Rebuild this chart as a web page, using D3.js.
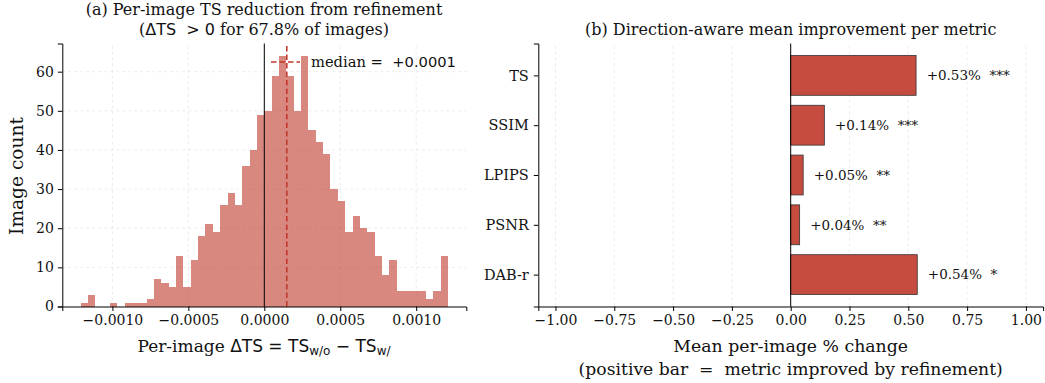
<!DOCTYPE html>
<html>
<head>
<meta charset="utf-8">
<script src="https://cdn.jsdelivr.net/npm/d3@7"></script>
<style>
  html, body { margin: 0; padding: 0; background: #fff; }
  svg { display: block; }
  text { font-family: "DejaVu Serif", serif; fill: #111; }
  .math { font-family: "DejaVu Sans", sans-serif; }
</style>
</head>
<body>
<svg id="chart" width="1045" height="383"></svg>
<script>
// ---- Panel (a): histogram of per-image TS reduction ----
const histLo = -0.00121;
const histHi = 0.00121;
const histCounts = [
  1, 3, 0, 0, 1, 0, 1, 1, 1, 2,
  7, 6, 5, 13, 5, 12, 18, 21, 19, 26,
  29, 26, 36, 40, 49, 50, 59, 64, 59, 50,
  64, 45, 42, 39, 30, 27, 19, 23, 20, 19,
  13, 8, 12, 4, 4, 4, 4, 2, 4, 13
];
const medianDelta = 0.000148;
const positiveShare = 67.8;
const histXTicks = [-0.0010, -0.0005, 0.0000, 0.0005, 0.0010];
const histYTicks = [0, 10, 20, 30, 40, 50, 60];

// ---- Panel (b): direction-aware mean improvement per metric ----
const metrics = ["DAB-r", "PSNR", "LPIPS", "SSIM", "TS"];
const meanChange = [0.538, 0.038, 0.053, 0.143, 0.533];
const significance = ["*", "**", "**", "***", "***"];
const changeTicks = [-1.00, -0.75, -0.50, -0.25, 0.00, 0.25, 0.50, 0.75, 1.00];

const RED = "#c0392b";
const GRID = "#e4e4e4";
const svg = d3.select("#chart");
const minus = s => s.replace("-", "\u2212");

// ================= Panel (a) =================
const nBins = histCounts.length;
const binW = (histHi - histLo) / nBins;
const bins = histCounts.map((c, i) => ({ x0: histLo + i * binW, x1: histLo + (i + 1) * binW, n: c }));

const xA = d3.scaleLinear().domain([-0.00133, 0.00133]).range([62.3, 466.3]);
const yA = d3.scaleLinear().domain([0, 67.2]).range([306.5, 43.5]);
const gA = svg.append("g");

// grid
gA.append("g").selectAll("line").data(histXTicks).join("line")
  .attr("x1", d => xA(d)).attr("x2", d => xA(d))
  .attr("y1", yA.range()[0]).attr("y2", yA.range()[1])
  .attr("stroke", GRID).attr("stroke-width", 0.7).attr("stroke-dasharray", "3,3");
gA.append("g").selectAll("line").data(histYTicks.filter(d => d > 0)).join("line")
  .attr("x1", xA.range()[0]).attr("x2", xA.range()[1])
  .attr("y1", d => yA(d)).attr("y2", d => yA(d))
  .attr("stroke", GRID).attr("stroke-width", 0.7).attr("stroke-dasharray", "3,3");

// bars
gA.append("g").selectAll("rect").data(bins).join("rect")
  .attr("x", d => xA(d.x0)).attr("width", d => xA(d.x1) - xA(d.x0))
  .attr("y", d => yA(d.n)).attr("height", d => yA(0) - yA(d.n))
  .attr("fill", RED).attr("fill-opacity", 0.6)
  .attr("shape-rendering", "crispEdges");

// zero reference
gA.append("line")
  .attr("x1", xA(0)).attr("x2", xA(0)).attr("y1", yA.range()[0]).attr("y2", yA.range()[1])
  .attr("stroke", "#000").attr("stroke-width", 1);

// median
gA.append("line")
  .attr("x1", xA(medianDelta)).attr("x2", xA(medianDelta))
  .attr("y1", yA.range()[0]).attr("y2", yA.range()[1])
  .attr("stroke", RED).attr("stroke-width", 1.6).attr("stroke-dasharray", "5.5,3");

// axes
const axA_x = d3.axisBottom(xA).tickValues(histXTicks).tickSize(4.5).tickPadding(4)
  .tickFormat(d => minus(d3.format(".4f")(d)));
const axA_y = d3.axisLeft(yA).tickValues(histYTicks).tickSize(4.5).tickPadding(4)
  .tickFormat(d3.format("d"));
gA.append("g").attr("transform", `translate(0,${yA.range()[0]})`).call(axA_x);
gA.append("g").attr("transform", `translate(${xA.range()[0]},0)`).call(axA_y);

// legend
const legY = 62;
gA.append("line").attr("x1", 271).attr("x2", 300).attr("y1", legY).attr("y2", legY)
  .attr("stroke", RED).attr("stroke-width", 1.6).attr("stroke-dasharray", "5.5,3");
const legT = gA.append("text").attr("x", 311).attr("y", legY + 5).attr("font-size", 14.7)
  .attr("xml:space", "preserve");
legT.append("tspan").text("median ");
legT.append("tspan").attr("class", "math").text("=  " + d3.format("+.4f")(medianDelta));

// titles
svg.append("text").attr("x", 264).attr("y", 15).attr("text-anchor", "middle").attr("font-size", 16)
  .text("(a) Per-image TS reduction from refinement");
const t2 = svg.append("text").attr("x", 264).attr("y", 34.5).attr("text-anchor", "middle")
  .attr("font-size", 16).attr("xml:space", "preserve");
t2.append("tspan").text("(");
t2.append("tspan").attr("class", "math").text("\u0394TS  > 0");
t2.append("tspan").text(` for ${positiveShare}% of images)`);

// axis labels
svg.append("text").attr("transform", "translate(23,176) rotate(-90)").attr("text-anchor", "middle")
  .attr("font-size", 18.6).text("Image count");
const xl = svg.append("text").attr("x", 264).attr("y", 352).attr("text-anchor", "middle").attr("font-size", 17);
xl.append("tspan").text("Per-image ");
xl.append("tspan").attr("class", "math").text("\u0394TS = TS");
xl.append("tspan").attr("class", "math").attr("font-size", 12).attr("dy", 3).text("w/o");
xl.append("tspan").attr("class", "math").attr("dy", -3).text(" \u2212 TS");
xl.append("tspan").attr("class", "math").attr("font-size", 12).attr("dy", 3).text("w/");

// ================= Panel (b) =================
const xB = d3.scaleLinear().domain([-1.073, 1.073]).range([538.3, 1043.1]);
const yB = d3.scaleLinear().domain([-0.64, 4.64]).range([306.5, 43.5]);
const gB = svg.append("g");
const barRows = metrics.map((m, i) => ({ m, i, v: meanChange[i], s: significance[i] }));

gB.append("g").selectAll("line").data(changeTicks).join("line")
  .attr("x1", d => xB(d)).attr("x2", d => xB(d))
  .attr("y1", yB.range()[0]).attr("y2", yB.range()[1])
  .attr("stroke", GRID).attr("stroke-width", 0.7).attr("stroke-dasharray", "3,3");

gB.append("g").selectAll("rect").data(barRows).join("rect")
  .attr("x", d => xB(Math.min(0, d.v))).attr("width", d => Math.abs(xB(d.v) - xB(0)))
  .attr("y", d => yB(d.i + 0.4)).attr("height", d => yB(d.i - 0.4) - yB(d.i + 0.4))
  .attr("fill", RED).attr("fill-opacity", 0.9)
  .attr("stroke", "#333").attr("stroke-width", 0.8);

gB.append("line")
  .attr("x1", xB(0)).attr("x2", xB(0)).attr("y1", yB.range()[0]).attr("y2", yB.range()[1])
  .attr("stroke", "#000").attr("stroke-width", 1);

gB.append("g").selectAll("text").data(barRows).join("text")
  .attr("x", d => xB(d.v + 0.045)).attr("y", d => yB(d.i)).attr("dy", "0.35em")
  .attr("font-size", 13.5)
  .attr("xml:space", "preserve")
  .text(d => `${d3.format("+.2f")(d.v)}%  ${d.s}`);

const axB_x = d3.axisBottom(xB).tickValues(changeTicks).tickSize(4.5).tickPadding(4)
  .tickFormat(d => minus(d3.format(".2f")(d)));
const axB_y = d3.axisLeft(yB).tickValues(d3.range(metrics.length)).tickSize(4.5).tickPadding(5)
  .tickFormat(i => metrics[i]);
gB.append("g").attr("transform", `translate(0,${yB.range()[0]})`).call(axB_x);
gB.append("g").attr("class", "catAxis").attr("transform", `translate(${xB.range()[0]},0)`).call(axB_y);

svg.append("text").attr("x", 790.7).attr("y", 35).attr("text-anchor", "middle").attr("font-size", 16)
  .text("(b) Direction-aware mean improvement per metric");
svg.append("text").attr("x", 790.7).attr("y", 352).attr("text-anchor", "middle").attr("font-size", 17.3)
  .text("Mean per-image % change");
svg.append("text").attr("x", 790.7).attr("y", 375).attr("text-anchor", "middle").attr("font-size", 17.2)
  .attr("xml:space", "preserve")
  .text("(positive bar  =  metric improved by refinement)");

// shared axis styling
svg.selectAll(".domain").attr("stroke", "#000").attr("stroke-width", 1);
svg.selectAll(".tick line").attr("stroke", "#000").attr("stroke-width", 1);
svg.selectAll(".tick text").attr("font-family", "DejaVu Serif, serif").attr("font-size", 14).attr("fill", "#111");
svg.selectAll(".catAxis .tick text").attr("font-size", 14.5);
</script>
</body>
</html>
